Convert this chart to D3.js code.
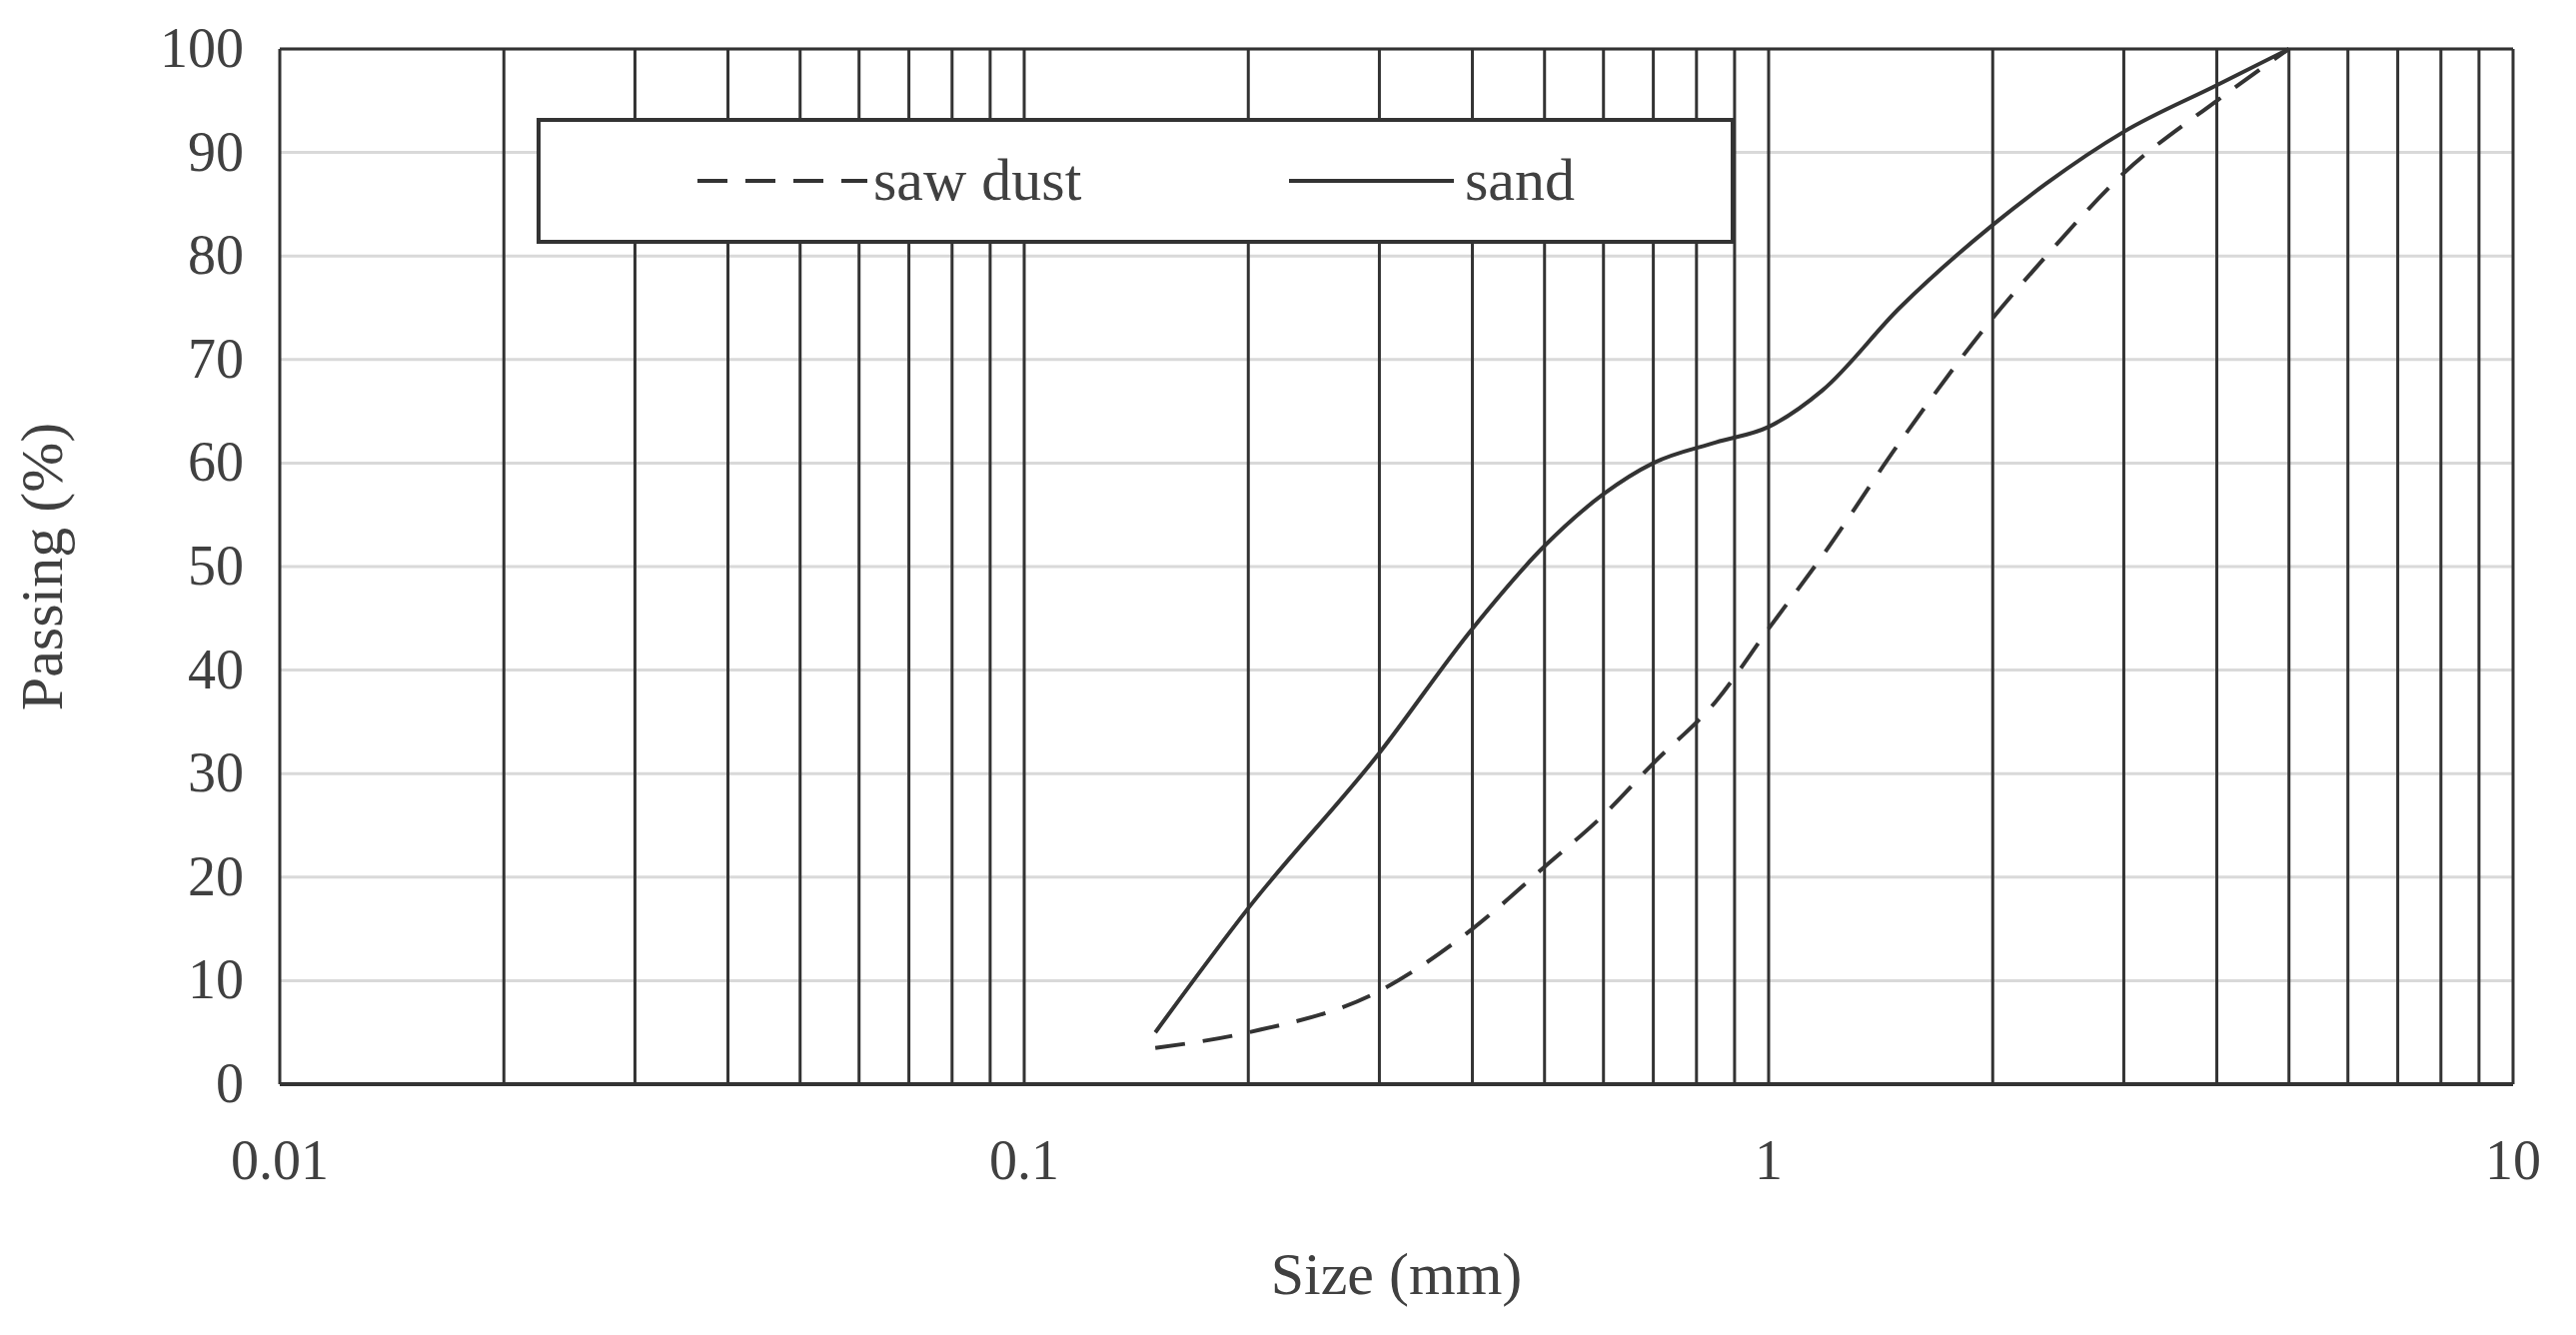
<!DOCTYPE html>
<html><head><meta charset="utf-8">
<script src="https://cdn.jsdelivr.net/npm/d3@7/dist/d3.min.js"></script>
<style>body{margin:0;background:#fff}text{font-family:"Liberation Serif","Times New Roman",serif;fill:#404040}</style>
</head><body><svg id="c" width="2578" height="1336"></svg>
<script>
const sizes = [0.15,0.2,0.3,0.4,0.5,0.6,0.7,0.85,1,1.18,1.5,2,2.36,3,4,5];
const sand = [5,17,32,44,52,57,60,62,63.5,67,75,83,87,92,96.5,100];
const sawDust = [3.5,5,9,15,21,26,31,37,44,51,62,74,80,88,95,100];
const xTicks = [0.01,0.1,1,10];
const xTickLabels = ["0.01","0.1","1","10"];
const yTicks = [0,10,20,30,40,50,60,70,80,90,100];
const seriesNames = ["saw dust","sand"];

const svg = d3.select("#c");
const L=280,R=2515,T=49,B=1085;
const x = d3.scaleLog().domain([0.01,10]).range([L,R]);
const y = d3.scaleLinear().domain([0,100]).range([B,T]);

// horizontal light grid
svg.selectAll(".hg").data(yTicks).enter().append("line")
 .attr("x1",L).attr("x2",R).attr("y1",d=>y(d)).attr("y2",d=>y(d))
 .attr("stroke","#d9d9d9").attr("stroke-width",3);
// vertical grid at every 1..9 per decade
const vg=[];
for(let e=-2;e<1;e++) for(let m=1;m<=9;m++) vg.push(m*Math.pow(10,e));
vg.push(10);
svg.selectAll(".vg").data(vg).enter().append("line")
 .attr("x1",d=>x(d)).attr("x2",d=>x(d)).attr("y1",T).attr("y2",B)
 .attr("stroke","#333").attr("stroke-width",3);
svg.append("line").attr("x1",L).attr("x2",R).attr("y1",T).attr("y2",T).attr("stroke","#333").attr("stroke-width",3);
svg.append("line").attr("x1",L).attr("x2",R).attr("y1",B).attr("y2",B).attr("stroke","#333").attr("stroke-width",4);

// axes labels
svg.selectAll(".yl").data(yTicks).enter().append("text")
 .attr("x",L-36).attr("y",d=>y(d)+18).attr("text-anchor","end").attr("font-size",56).text(d=>d);
svg.selectAll(".xl").data(xTicks).enter().append("text")
 .attr("x",d=>x(d)).attr("y",B+95).attr("text-anchor","middle").attr("font-size",56)
 .text((d,i)=>xTickLabels[i]);
svg.append("text").attr("x",(L+R)/2).attr("y",1295).attr("text-anchor","middle").attr("font-size",60).text("Size (mm)");
svg.append("text").attr("transform",`translate(62,${(T+B)/2}) rotate(-90)`).attr("text-anchor","middle").attr("font-size",60).text("Passing (%)");

const line = d3.line().x(d=>x(d[0])).y(d=>y(d[1])).curve(d3.curveMonotoneX);
svg.append("path").attr("d",line(sizes.map((s,i)=>[s,sawDust[i]]))).attr("fill","none")
 .attr("stroke","#333").attr("stroke-width",4).attr("stroke-dasharray","30,18");
svg.append("path").attr("d",line(sizes.map((s,i)=>[s,sand[i]]))).attr("fill","none")
 .attr("stroke","#333").attr("stroke-width",4);

// legend
const lg=svg.append("g");
lg.append("rect").attr("x",539).attr("y",120).attr("width",1195).attr("height",122)
 .attr("fill","#fff").attr("stroke","#333").attr("stroke-width",4);
lg.append("line").attr("x1",698).attr("x2",868).attr("y1",181).attr("y2",181).attr("stroke","#333").attr("stroke-width",4).attr("stroke-dasharray","30,18");
lg.append("text").attr("x",874).attr("y",200).attr("font-size",60).text(seriesNames[0]);
lg.append("line").attr("x1",1290).attr("x2",1455).attr("y1",181).attr("y2",181).attr("stroke","#333").attr("stroke-width",4);
lg.append("text").attr("x",1466).attr("y",200).attr("font-size",60).text(seriesNames[1]);
</script></body></html>
